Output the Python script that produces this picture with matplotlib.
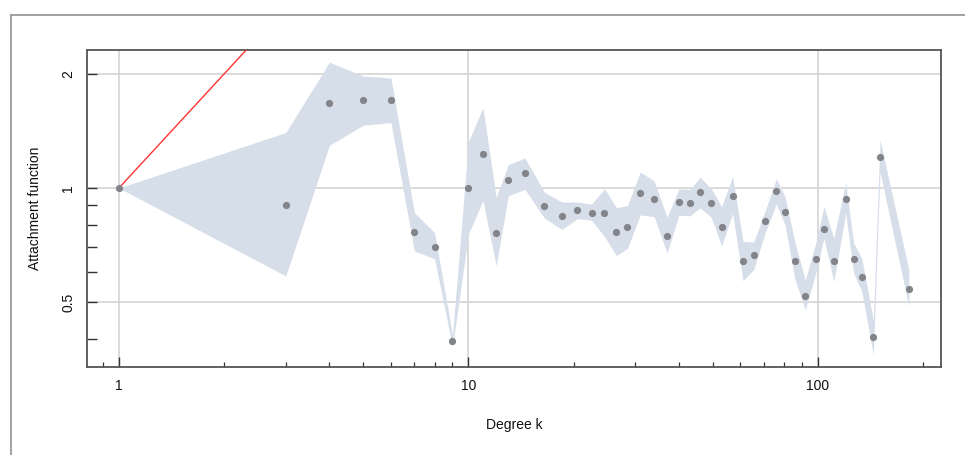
import matplotlib
matplotlib.use("Agg")
import matplotlib.pyplot as plt
from matplotlib.lines import Line2D
from matplotlib.ticker import FixedLocator, NullFormatter

plt.rcParams['font.family'] = ['Liberation Sans', 'DejaVu Sans']

# degree bins
degree = [1, 3, 4, 5, 6, 7, 8, 9,
          10, 11, 12, 13,
          14.5, 16.5, 18.5, 20.5, 22.5, 24.5, 26.5, 28.5,
          31, 34, 37, 40, 43, 46, 49.5, 53,
          57, 61, 65.5, 70.5, 76, 80.5, 86, 92, 98.5,
          104, 111, 120, 126.5, 133.5, 144, 150.5, 182]

# estimated attachment function
att = [1.0, 0.904, 1.673, 1.703, 1.703, 0.764, 0.699, 0.394,
       1.0, 1.232, 0.759, 1.048,
       1.093, 0.895, 0.844, 0.873, 0.859, 0.861, 0.764, 0.789,
       0.968, 0.935, 0.746, 0.918, 0.913, 0.978, 0.911, 0.790,
       0.951, 0.642, 0.664, 0.818, 0.980, 0.864, 0.642, 0.519, 0.650,
       0.781, 0.643, 0.937, 0.650, 0.583, 0.405, 1.207, 0.541]

# confidence band
upper = [1.0, 1.40, 2.146, 1.975, 1.95, 0.861, 0.762, 0.409,
         1.325, 1.629, 0.945, 1.152,
         1.2, 0.974, 0.918, 0.918, 0.907, 0.996, 0.887, 0.898,
         1.102, 1.043, 0.837, 0.994, 0.992, 1.067, 0.996, 0.893,
         1.071, 0.723, 0.720, 0.866, 1.058, 0.949, 0.715, 0.572, 0.715,
         0.893, 0.737, 1.033, 0.715, 0.652, 0.448, 1.339, 0.608]
lower = [1.0, 0.586, 1.296, 1.464, 1.487, 0.682, 0.650, 0.381,
         0.756, 0.926, 0.623, 0.954,
         0.992, 0.832, 0.778, 0.830, 0.822, 0.744, 0.663, 0.693,
         0.849, 0.840, 0.673, 0.847, 0.844, 0.886, 0.837, 0.704,
         0.858, 0.569, 0.610, 0.759, 0.907, 0.798, 0.572, 0.477, 0.596,
         0.737, 0.566, 0.858, 0.596, 0.533, 0.363, 1.104, 0.486]

# reference line A_k = k
ref_k = [1, 10]

fig = plt.figure(figsize=(9.65, 4.55), dpi=100)
ax = fig.add_axes([87 / 965, 1 - 367 / 455, (941 - 87) / 965, (367 - 50) / 455])

ax.set_xscale('log')
ax.set_yscale('log')
ax.set_xlim(0.81, 224.9)
ax.set_ylim(0.337, 2.312)

ax.fill_between(degree, lower, upper, color='#d6deea', lw=0, zorder=2)
ax.plot(ref_k, ref_k, color='#ff3333', lw=1.0, zorder=3)
ax.plot(degree, att, 'o', color='#838489', ms=5.2, mew=0, zorder=4)

ax.xaxis.set_major_locator(FixedLocator([1, 10, 100]))
ax.xaxis.set_minor_locator(FixedLocator([0.9] + list(range(2, 10)) +
                                        list(range(20, 100, 10)) + [200]))
ax.set_xticklabels(['1', '10', '100'])
ax.xaxis.set_minor_formatter(NullFormatter())

ax.yaxis.set_major_locator(FixedLocator([0.5, 1, 2]))
ax.yaxis.set_minor_locator(FixedLocator([0.4, 0.6, 0.7, 0.8, 0.9]))
ax.set_yticklabels(['0.5', '1', '2'], rotation=90, va='center')
ax.yaxis.set_minor_formatter(NullFormatter())

ax.tick_params(axis='both', which='major', direction='in', length=7.2,
               width=1.0, color='#333333', labelsize=10, pad=8.5,
               labelcolor='#111111')
ax.tick_params(axis='x', which='minor', direction='in', length=3.6,
               width=0.9, color='#333333')
ax.tick_params(axis='y', which='minor', direction='in', length=7.2,
               width=1.0, color='#333333')

ax.grid(which='major', color='#d4d4d4', lw=1.2, zorder=0)
ax.set_axisbelow(True)
for s in ax.spines.values():
    s.set_color('#555555')
    s.set_linewidth(1.3)

ax.set_xlabel('Degree k', fontsize=10, labelpad=18, color='#111111')
ax.set_ylabel('Attachment function', fontsize=10, labelpad=14, color='#111111')

# outer gray frame (top and left edges)
fig.add_artist(Line2D([10.5 / 965, 1.0], [1 - 14.5 / 455, 1 - 14.5 / 455],
                      transform=fig.transFigure, color='#9a9a9a', lw=1.3))
fig.add_artist(Line2D([10.5 / 965, 10.5 / 965], [0.0, 1 - 14.5 / 455],
                      transform=fig.transFigure, color='#9a9a9a', lw=1.3))

fig.savefig('out.png', dpi=100)
